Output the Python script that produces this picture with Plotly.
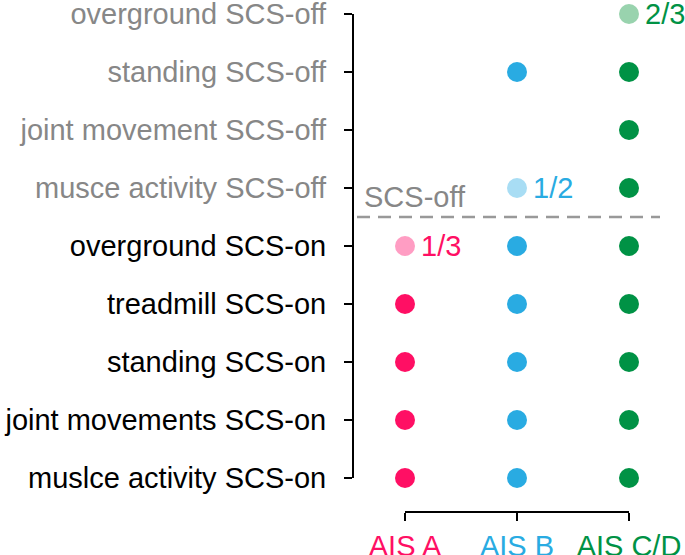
import plotly.graph_objects as go

# ---- data ----
rows = [
    "muslce activity SCS-on",
    "joint movements SCS-on",
    "standing SCS-on",
    "treadmill SCS-on",
    "overground SCS-on",
    "musce activity SCS-off",
    "joint movement SCS-off",
    "standing SCS-off",
    "overground SCS-off",
]
row_is_off = [False, False, False, False, False, True, True, True, True]
groups = ["AIS A", "AIS B", "AIS C/D"]
# "1" = all patients, fraction string = partial, "" = none
ais_a = ["1", "1", "1", "1", "1/3", "", "", "", ""]
ais_b = ["1", "1", "1", "1", "1", "1/2", "", "1", ""]
ais_cd = ["1", "1", "1", "1", "1", "1", "1", "1", "2/3"]
series = [ais_a, ais_b, ais_cd]
full_colors = ["#FF0F64", "#29ABE2", "#009245"]
light_colors = ["#FF9DC3", "#A8DDF4", "#99D3AE"]
divider_label = "SCS-off"
divider_at = 4.5

FONT = "Liberation Sans, Arial, Helvetica, sans-serif"
GRAY = "#878787"
FS = 29

W, H = 685, 555
L, R, T, B = 353, 56, 14, 43
pw = W - L - R
ph = H - T - B
x_start = (405 - L) / pw
y_start = ((H - B) - 478) / ph

fig = go.Figure()
annotations = []
for gi, (g, vals) in enumerate(zip(groups, series)):
    xs, ys, cols = [], [], []
    for ri, v in enumerate(vals):
        if v == "":
            continue
        xs.append(gi)
        ys.append(ri)
        if v == "1":
            cols.append(full_colors[gi])
        else:
            cols.append(light_colors[gi])
            annotations.append(dict(
                x=gi, y=ri, xref="x", yref="y", text=v, showarrow=False,
                xanchor="left", yanchor="middle", xshift=14,
                font=dict(family=FONT, size=FS, color=full_colors[gi]),
            ))
    fig.add_trace(go.Scatter(
        x=xs, y=ys, mode="markers", cliponaxis=False, showlegend=False,
        marker=dict(size=20, color=cols, line=dict(width=0)),
        hoverinfo="skip",
    ))

annotations.append(dict(
    x=(362 - L) / pw, y=divider_at, xref="paper", yref="y", text=divider_label,
    showarrow=False, xanchor="left", yanchor="bottom", yshift=2,
    font=dict(family=FONT, size=FS, color=GRAY),
))

fig.add_shape(type="line", xref="paper", yref="y",
              x0=(357 - L) / pw, x1=(660 - L) / pw, y0=divider_at, y1=divider_at,
              line=dict(color="#999999", width=2.5, dash="13px,8px"))

ytext = [
    f'<span style="color:{GRAY}">{r}</span>' if off else f'<span style="color:#000000">{r}</span>'
    for r, off in zip(rows, row_is_off)
]
xtext = [f'<span style="color:{c}">{g}</span>' for g, c in zip(groups, full_colors)]

fig.update_layout(
    width=W, height=H,
    margin=dict(l=L, r=R, t=T, b=B, pad=0, autoexpand=False),
    paper_bgcolor="white", plot_bgcolor="white",
    font=dict(family=FONT, size=FS, color="black"),
    annotations=annotations,
    xaxis=dict(
        domain=[x_start, 1], range=[0, 2], anchor="free", position=0,
        tickvals=[0, 1, 2], ticktext=xtext, showgrid=False, zeroline=False,
        showline=True, linecolor="black", linewidth=2, automargin=False,
        ticks="outside", ticklen=8, tickwidth=2, tickcolor="black",
        ticklabelstandoff=0, tickfont=dict(family=FONT, size=FS),
        ticklabeloverflow="allow", fixedrange=True,
    ),
    yaxis=dict(
        domain=[y_start, 1], range=[0, 8], anchor="free", position=0,
        tickvals=list(range(len(rows))), ticktext=ytext, showgrid=False,
        zeroline=False, showline=True, linecolor="black", linewidth=2,
        automargin=False,
        ticks="outside", ticklen=8, tickwidth=2, tickcolor="black",
        ticklabelstandoff=12, tickfont=dict(family=FONT, size=FS),
        ticklabeloverflow="allow", fixedrange=True,
    ),
)

fig.write_html(
    "out.html",
    config={"displayModeBar": False},
    post_script="document.body.style.margin='0';document.body.style.overflow='hidden';",
)
